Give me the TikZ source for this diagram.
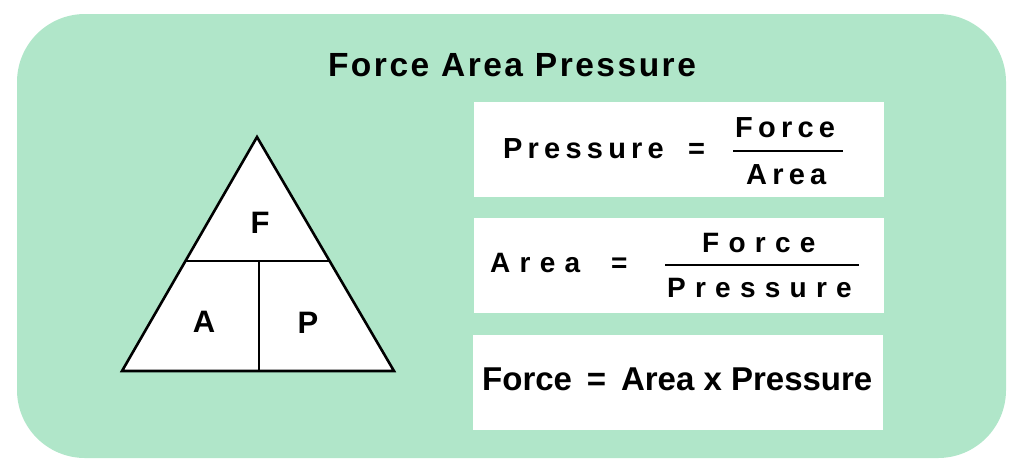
\documentclass[tikz,border=0pt]{standalone}
\usepackage{fontspec}
\setmainfont{Liberation Sans}
\usetikzlibrary{calc}
\definecolor{bggreen}{RGB}{176,230,201}
\begin{document}
\begin{tikzpicture}[x=1pt,y=-1pt,
  txt/.style={inner sep=0pt, text=black},
  boxw/.style={fill=white, draw=none, inner sep=0pt, minimum width=410pt, minimum height=95pt},
  triline/.style={line width=2.6pt, line join=miter},
  fracline/.style={line width=1.6pt},
  ttl/.style={txt, font=\fontsize{33.5}{36}\selectfont\bfseries\addfontfeature{LetterSpace=7.5}},
  eqa/.style={txt, font=\fontsize{29}{32}\selectfont\bfseries\addfontfeature{LetterSpace=18}},
  eqb/.style={txt, font=\fontsize{28}{32}\selectfont\bfseries\addfontfeature{LetterSpace=33}},
  eqc/.style={txt, font=\fontsize{33}{35}\selectfont\bfseries},
  letter/.style={txt, font=\fontsize{31}{34}\selectfont\bfseries}
]
\useasboundingbox (0,0) rectangle (1024,475);
\fill[bggreen, rounded corners=68pt] (17,14) rectangle (1006,458);

% title
\node[ttl, anchor=base] (title) at (512,76) {Force Area Pressure};

% triangle
\coordinate (apex) at (257,137);
\coordinate (bl) at (122,371);
\coordinate (br) at (394,371);
\coordinate (ml) at ($(apex)!0.53!(bl)$);
\coordinate (mr) at ($(apex)!0.53!(br)$);
\coordinate (vt) at (259,261);
\coordinate (vb) at (259,371);
\fill[white] (apex) -- (br) -- (bl) -- cycle;
\draw[triline] (ml) -- (mr);
\draw[triline] (vt) -- (vb);
\draw[triline] (apex) -- (br) -- (bl) -- cycle;
\node[letter, anchor=base] (F) at (260,233) {F};
\node[letter, anchor=base] (A) at (204,332) {A};
\node[letter, anchor=base] (P) at (308,333) {P};

% boxes
\node[boxw] (b1) at (679,149.5) {};
\node[boxw] (b2) at (678.5,265.5) {};
\node[boxw] (b3) at (678,382.5) {};

% box 1
\node[eqa, anchor=base west] (p1) at (503,158) {Pressure};
\node[eqa, anchor=base west] (e1) at (688,158) {=};
\node[eqa, anchor=base west] (f1) at (735,137) {Force};
\node[eqa, anchor=base west] (a1) at (746,184) {Area};
\coordinate (l1a) at (733,151);
\coordinate (l1b) at (843,151);
\draw[fracline] (l1a) -- (l1b);

% box 2
\node[eqb, anchor=base west] (a2) at (490,272) {Area};
\node[eqb, anchor=base west] (e2) at (611,272) {=};
\node[eqb, anchor=base west] (f2) at (702,252) {Force};
\node[eqb, anchor=base west] (p2) at (667,297) {Pressure};
\coordinate (l2a) at (665,265);
\coordinate (l2b) at (859,265);
\draw[fracline] (l2a) -- (l2b);

% box 3
\node[eqc, anchor=base west] (f3) at (482,390) {Force\hspace{0.45em}=\hspace{0.45em}Area x Pressure};
\end{tikzpicture}
\end{document}
